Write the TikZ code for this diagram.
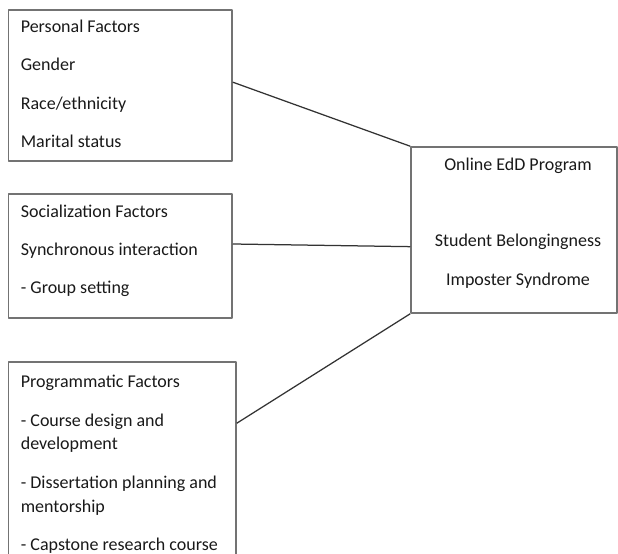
\documentclass[tikz,border=0pt]{standalone}
\usepackage{fontspec}
\setmainfont{Carlito}
\usetikzlibrary{fit}
\begin{document}
\begin{tikzpicture}[x=0.6pt, y=-0.6pt, font=\fontsize{10.8}{13}\selectfont, line join=round]
	\tikzset{
		box/.style={draw=black!55, line width=0.9pt, inner sep=0pt},
		link/.style={draw=black!80, line width=0.75pt},
		item/.style={anchor=base west, inner sep=0pt, text=black!90},
		centre/.style={anchor=base, inner sep=0pt, text=black!90}}
	\useasboundingbox (0,0) rectangle (618,554);
	% factor boxes
	\node[box, fit={(8.5,10) (232,161)}] (personal) {};
	\node[box, fit={(8.5,194) (232,318)}] (social) {};
	\node[box, fit={(8.5,362) (236,640)}] (program) {};
	\node[box, fit={(411,147) (617,313)}] (edd) {};
	% connectors
	\draw[link] ([yshift=2pt]personal.east) -- (edd.north west);
	\draw[link] ([yshift=7.2pt]social.east) -- ([yshift=-10pt]edd.west);
	\draw[link] ([yshift=-37.2pt]program.north east) -- (edd.south west);
	% texts
	\path
	(20.5,33) node[item] (p0) {Personal Factors}
	(20.5,71) node[item] (p1) {Gender}
	(20.5,109.5) node[item] (p2) {Race/ethnicity}
	(20.5,147.5) node[item] (p3) {Marital status}
	(20.5,218) node[item] (s0) {Socialization Factors}
	(20.5,256) node[item] (s1) {Synchronous interaction}
	(20.5,294) node[item] (s2) {- Group setting}
	(20.5,387) node[item] (g0) {Programmatic Factors}
	(20.5,426) node[item] (g1) {- Course design and}
	(20.5,450) node[item] (g2) {development}
	(20.5,488) node[item] (g3) {- Dissertation planning and}
	(20.5,512) node[item] (g4) {mentorship}
	(20.5,550.5) node[item] (g5) {- Capstone research course}
	(518,171) node[centre] (e0) {Online EdD Program}
	(518,247) node[centre] (e1) {Student Belongingness}
	(518,285.5) node[centre] (e2) {Imposter Syndrome};
\end{tikzpicture}
\end{document}
